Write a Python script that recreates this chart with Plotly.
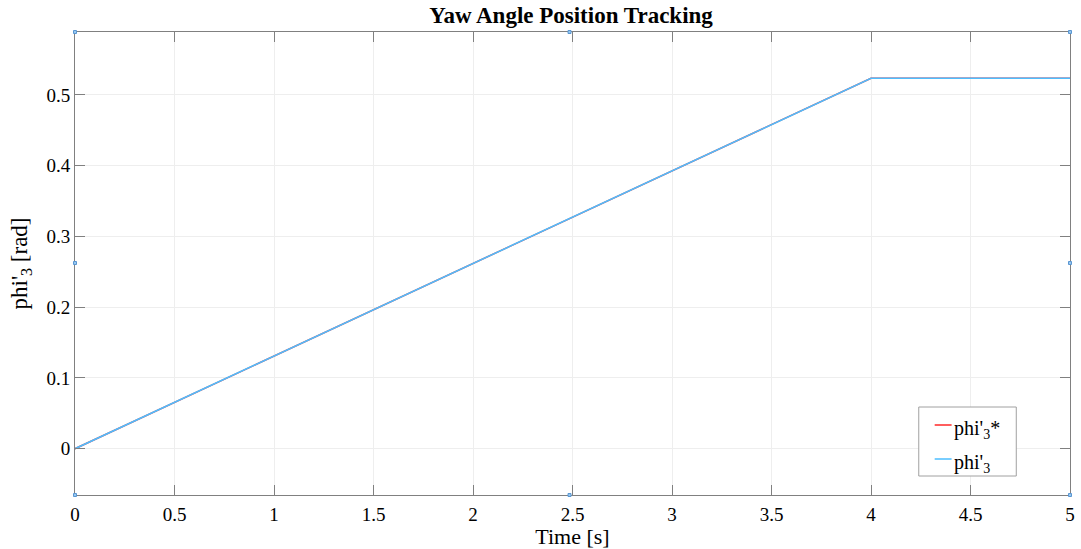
import numpy as np
import plotly.graph_objects as go

# Yaw angle reference (ramp to pi/6 at t=4 s, then hold) and measured response
time_s = [0.0, 4.0, 5.0]
phi_ref = [0.0, np.pi / 6, np.pi / 6]
phi_meas = [0.0, np.pi / 6, np.pi / 6]

x_ticks = [0, 0.5, 1, 1.5, 2, 2.5, 3, 3.5, 4, 4.5, 5]
y_ticks = [0, 0.1, 0.2, 0.3, 0.4, 0.5]
y_range = [-np.pi / 48, 3 * np.pi / 16]

FONT = "Liberation Serif"
AXIS_COLOR = "rgb(128,128,128)"
GRID_COLOR = "rgb(238,238,238)"
RED = "rgb(255,40,40)"
BLUE = "rgb(77,190,255)"

fig = go.Figure()
fig.add_trace(go.Scatter(x=time_s, y=phi_ref, mode="lines", name="phi'<sub>3</sub>*",
                         line=dict(color=RED, width=1.5), showlegend=False))
fig.add_trace(go.Scatter(x=time_s, y=phi_meas, mode="lines", name="phi'<sub>3</sub>",
                         line=dict(color=BLUE, width=1.6), showlegend=False))

axis_common = dict(
    showline=True, linecolor=AXIS_COLOR, linewidth=1, mirror="ticks",
    ticks="inside", ticklen=10, tickcolor=AXIS_COLOR, tickwidth=1,
    showgrid=True, gridcolor=GRID_COLOR, gridwidth=1, zeroline=False,
    tickfont=dict(family=FONT, size=19, color="black"),
)

fig.update_layout(
    width=1081, height=549,
    margin=dict(l=75, r=6, t=32, b=54),
    paper_bgcolor="white", plot_bgcolor="white",
    title=dict(text="<b>Yaw Angle Position Tracking</b>", x=0.5283, xanchor="center",
               yref="container", y=0.988, yanchor="top",
               font=dict(family=FONT, size=23, color="black")),
    xaxis=dict(range=[0, 5], tickvals=x_ticks, ticktext=[f"{v:g}" for v in x_ticks],
               ticklabelstandoff=2,
               title=dict(text="Time [s]", font=dict(family=FONT, size=22, color="black"),
                          standoff=0), **axis_common),
    yaxis=dict(range=y_range, tickvals=y_ticks, ticktext=[f"{v:g}" for v in y_ticks],
               title=dict(text="phi'<sub>3</sub> [rad]", font=dict(family=FONT, size=23, color="black"),
                          standoff=12), **axis_common),
    showlegend=False,
)

# Legend box drawn in paper coordinates
L, R, T, B = 75, 1075, 32, 495


def px(xp):
    return (xp - L) / (R - L)


def py(yp):
    return (B - yp) / (B - T)


fig.add_shape(type="rect", xref="paper", yref="paper",
              x0=px(923), x1=px(1021), y0=py(476), y1=py(407),
              line=dict(color="rgb(160,160,160)", width=1), fillcolor="white", layer="above")
for color, ypix, label in [(RED, 425, "phi'<sub>3</sub>*"), (BLUE, 459, "phi'<sub>3</sub>")]:
    fig.add_shape(type="line", xref="paper", yref="paper",
                  x0=px(939), x1=px(956), y0=py(ypix), y1=py(ypix),
                  line=dict(color=color, width=1.5), layer="above")
    fig.add_annotation(text=label, xref="paper", yref="paper", x=px(956), y=py(ypix + 4),
                       xanchor="left", yanchor="middle", showarrow=False,
                       font=dict(family=FONT, size=20, color="black"))

# Small selection handles around the axes box
handles = [(75, 32), (572, 32), (1075, 32), (75, 263), (1075, 263),
           (75, 495), (572, 495), (1075, 495)]
for hx, hy in handles:
    fig.add_shape(type="rect", xref="paper", yref="paper",
                  x0=px(hx - 1.5), x1=px(hx + 1.5), y0=py(hy + 1.5), y1=py(hy - 1.5),
                  line=dict(color="rgb(90,150,210)", width=1), fillcolor="rgb(150,200,240)",
                  layer="above")

fig.write_html("out.html")
